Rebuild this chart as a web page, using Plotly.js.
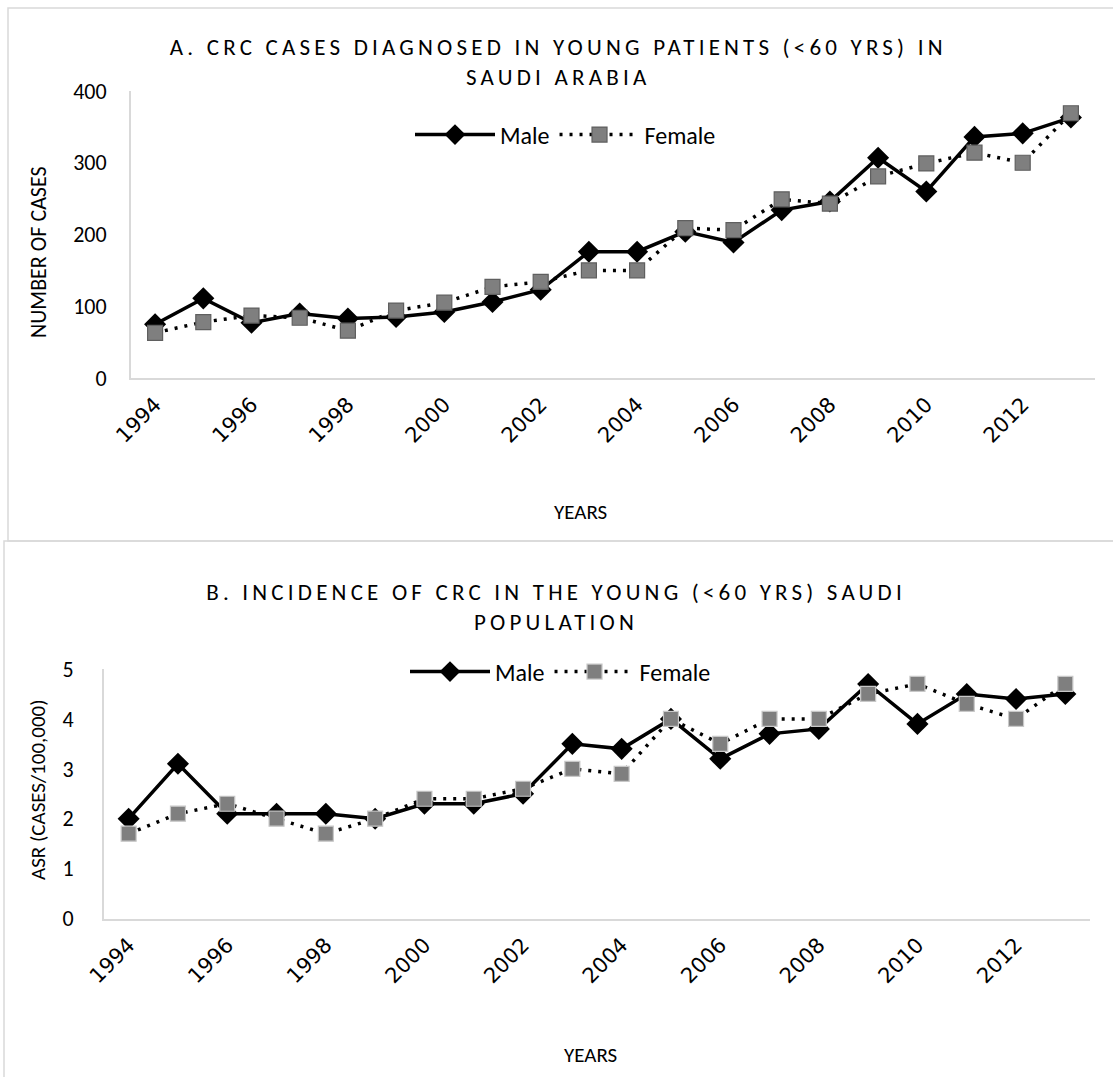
<!DOCTYPE html>
<html>
<head>
<meta charset="utf-8">
<script src="https://cdn.plot.ly/plotly-3.0.1.min.js"></script>
<style>
  html, body { margin: 0; padding: 0; background: #fff; }
  #chart { width: 1113px; height: 1077px; }
</style>
</head>
<body>
<div id="chart"></div>
<script>
// ---- data ----
const years = ['1994','1995','1996','1997','1998','1999','2000','2001','2002','2003',
               '2004','2005','2006','2007','2008','2009','2010','2011','2012','2013'];
const tickYears = ['1994','1996','1998','2000','2002','2004','2006','2008','2010','2012'];
const casesMale   = [75,111,77,90,83,85,92,106,123,176,176,204,189,234,246,307,260,336,341,363];
const casesFemale = [63,78,87,84,66,94,105,127,134,150,150,209,206,249,243,281,299,314,300,369];
const asrMale   = [2.0,3.1,2.1,2.1,2.1,2.0,2.3,2.3,2.5,3.5,3.4,4.0,3.2,3.7,3.8,4.7,3.9,4.5,4.4,4.5];
const asrFemale = [1.7,2.1,2.3,2.0,1.7,2.0,2.4,2.4,2.6,3.0,2.9,4.0,3.5,4.0,4.0,4.5,4.7,4.3,4.0,4.7];
const seriesNames = ['Male', 'Female'];
const titleA = 'A. CRC CASES DIAGNOSED IN YOUNG PATIENTS (&lt;60 YRS) IN<br>SAUDI ARABIA';
const titleB = 'B. INCIDENCE OF CRC IN THE YOUNG (&lt;60 YRS) SAUDI<br>POPULATION';
const yTitleA = 'NUMBER OF CASES';
const yTitleB = 'ASR (CASES/100,000)';
const xTitle = 'YEARS';

// ---- layout helpers ----
const W = 1113, H = 1077;
const FONT = 'Carlito, Calibri, Lato, sans-serif';
const TICKFONT = '"DejaVu Sans", sans-serif';
const px = v => v / W;
const py = v => 1 - v / H;

function maleTrace(y, xa, ya, leg) {
  return {x: years, y: y, xaxis: xa, yaxis: ya, legend: leg, name: seriesNames[0],
    type: 'scatter', mode: 'lines+markers',
    line: {color: '#000000', width: 3.5},
    marker: {symbol: 'diamond', size: 17, color: '#000000'}};
}
function femaleTrace(y, xa, ya, leg, edge) {
  return {x: years, y: y, xaxis: xa, yaxis: ya, legend: leg, name: seriesNames[1],
    type: 'scatter', mode: 'lines+markers',
    line: {color: '#000000', width: 3.5, dash: '3px,7px'},
    marker: {symbol: 'square', size: 15, color: '#7f7f7f', line: {color: edge, width: 1.2}}};
}

const traces = [
  maleTrace(casesMale, 'x', 'y', 'legend'),
  femaleTrace(casesFemale, 'x', 'y', 'legend', '#5f5f5f'),
  maleTrace(asrMale, 'x2', 'y2', 'legend2'),
  femaleTrace(asrFemale, 'x2', 'y2', 'legend2', '#c8c8c8')
];

const xCommon = {
  type: 'category', range: [-0.5, 19.5], fixedrange: true,
  tickmode: 'array', tickvals: tickYears, ticktext: tickYears,
  tickangle: -45, ticks: '', showgrid: false, zeroline: false,
  showline: true, linecolor: '#d9d9d9', linewidth: 2,
  tickfont: {family: TICKFONT, size: 21, color: '#000'}
};
const yCommon = {
  ticks: '', showgrid: false, zeroline: false, fixedrange: true,
  showline: true, linecolor: '#d9d9d9', linewidth: 2,
  tickfont: {family: FONT, size: 22, color: '#000'}
};

const legendFont = {family: FONT, size: 24, color: '#000'};

const layout = {
  width: W, height: H,
  margin: {l: 0, r: 0, t: 0, b: 0},
  paper_bgcolor: '#ffffff', plot_bgcolor: '#ffffff',
  font: {family: FONT, color: '#000'},
  xaxis: Object.assign({}, xCommon, {domain: [px(131), px(1095)], anchor: 'y', ticklabelstandoff: 4}),
  yaxis: Object.assign({}, yCommon, {domain: [py(378), py(91)], anchor: 'x', range: [0, 400],
          tickvals: [0,100,200,300,400], ticklabelstandoff: 18}),
  xaxis2: Object.assign({}, xCommon, {domain: [px(104), px(1090)], anchor: 'y2', ticklabelstandoff: 4}),
  yaxis2: Object.assign({}, yCommon, {domain: [py(918.5), py(669)], anchor: 'x2', range: [0, 5],
          tickvals: [0,1,2,3,4,5], ticklabelstandoff: 24}),
  legend: {orientation: 'h', x: px(410), y: py(135), xanchor: 'left', yanchor: 'middle',
           bgcolor: 'rgba(0,0,0,0)', font: legendFont, itemwidth: 80, tracegroupgap: 0},
  legend2: {orientation: 'h', x: px(405), y: py(672), xanchor: 'left', yanchor: 'middle',
           bgcolor: 'rgba(0,0,0,0)', font: legendFont, itemwidth: 80, tracegroupgap: 0},
  showlegend: true,
  shapes: [
    {type: 'rect', xref: 'paper', yref: 'paper', x0: px(8), x1: px(1125), y0: py(541), y1: py(8),
     line: {color: '#d9d9d9', width: 1.5}, fillcolor: 'rgba(0,0,0,0)', layer: 'below'},
    {type: 'rect', xref: 'paper', yref: 'paper', x0: px(4), x1: px(1125), y0: py(1090), y1: py(541),
     line: {color: '#d9d9d9', width: 1.5}, fillcolor: 'rgba(0,0,0,0)', layer: 'below'}
  ],
  annotations: [
    {text: titleA, xref: 'paper', yref: 'paper', x: px(558), y: py(62), xanchor: 'center', yanchor: 'middle',
     showarrow: false, align: 'center', font: {family: FONT, size: 23, color: '#000'}},
    {text: titleB, xref: 'paper', yref: 'paper', x: px(556), y: py(607), xanchor: 'center', yanchor: 'middle',
     showarrow: false, align: 'center', font: {family: FONT, size: 23, color: '#000'}},
    {text: yTitleA, xref: 'paper', yref: 'paper', x: px(38), y: py(252), textangle: -90,
     xanchor: 'center', yanchor: 'middle', showarrow: false, font: {family: FONT, size: 22, color: '#000'}},
    {text: yTitleB, xref: 'paper', yref: 'paper', x: px(38), y: py(790), textangle: -90,
     xanchor: 'center', yanchor: 'middle', showarrow: false, font: {family: FONT, size: 21, color: '#000'}},
    {text: xTitle, xref: 'paper', yref: 'paper', x: px(580), y: py(512), xanchor: 'center', yanchor: 'middle',
     showarrow: false, font: {family: FONT, size: 21, color: '#000'}},
    {text: xTitle, xref: 'paper', yref: 'paper', x: px(590), y: py(1055), xanchor: 'center', yanchor: 'middle',
     showarrow: false, font: {family: FONT, size: 21, color: '#000'}}
  ]
};

Plotly.newPlot('chart', traces, layout, {displayModeBar: false, staticPlot: true}).then(() => {
  // widen letter spacing of the two chart titles, as in the reference
  document.querySelectorAll('.annotation-text').forEach((t, i) => {
    if (i < 2) t.style.letterSpacing = '4.2px';
  });
});
</script>
</body>
</html>
